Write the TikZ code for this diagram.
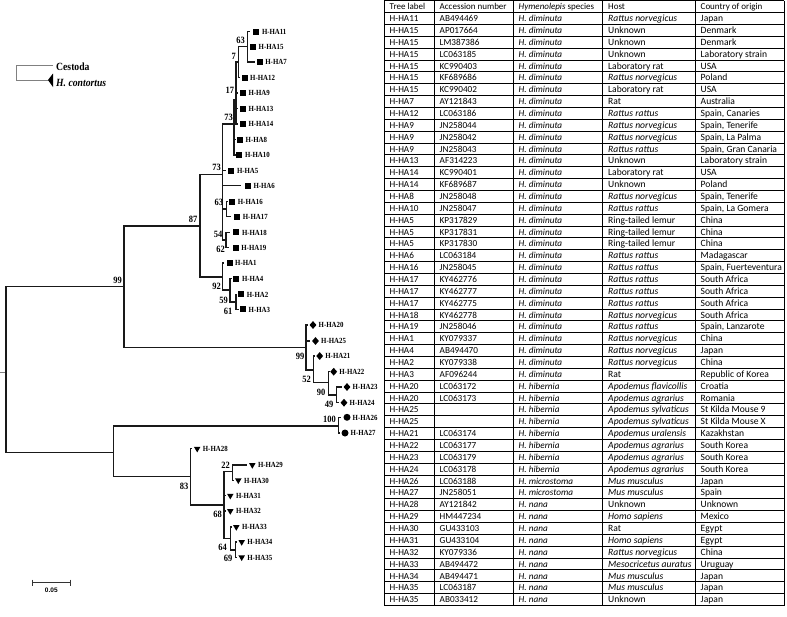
\documentclass[tikz,border=0pt]{standalone}
\usepackage{fontspec}
\setmainfont{Liberation Serif}
\newfontfamily\treefont[FakeStretch=0.88]{Liberation Serif}
\newfontfamily\cellfont{Carlito}
\newfontfamily\barfont{Liberation Sans}
\usetikzlibrary{shapes.geometric}
\tikzset{
 br/.style={line width=1.1pt, black!90},
 leaflab/.style={font=\treefont\bfseries\fontsize{7.8}{8}\selectfont, inner sep=0pt, anchor=base west},
 bs/.style={font=\treefont\bfseries\fontsize{9.6}{10}\selectfont, inner sep=0pt, anchor=base east},
 leg/.style={font=\treefont\bfseries\fontsize{11}{12}\selectfont, inner sep=0pt, anchor=base west},
 sqm/.style={rectangle, fill=black, minimum size=6pt, inner sep=0pt},
 dim/.style={diamond, fill=black, minimum width=7pt, minimum height=8pt, inner sep=0pt},
 cim/.style={circle, fill=black, minimum size=7pt, inner sep=0pt},
 trm/.style={regular polygon, regular polygon sides=3, shape border rotate=180, fill=black, minimum size=7.5pt, inner sep=0pt},
 cell/.style={font=\cellfont\fontsize{9}{10}\selectfont, inner sep=0pt, anchor=base west},
 cellL/.style={font=\cellfont\fontsize{9.2}{10}\selectfont, inner sep=0pt, anchor=base west},
 cellR/.style={font=\cellfont\fontsize{9.6}{10}\selectfont, inner sep=0pt, anchor=base west},
 grid/.style={line width=0.8pt, black},
}
\newcommand{\leafx}[6]{%
 \coordinate (#1) at (#2,#3);
 \node[#5] (#1m) at (#4,#3) {};
 \node[leaflab] (#1t) at ([xshift=5.5pt,yshift=-2.9pt]#1m.center) {#6};}
\newcommand{\trow}[6]{%
 \pgfmathsetmacro{\ry}{0.6+(#1+0.5)*11.86+3.2}%
 \node[cellL] (r#1a) at (389.5,\ry) {#2};
 \node[cellL] (r#1b) at (439.5,\ry) {#3};
 \node[cellL] (r#1c) at (518.5,\ry) {#4};
 \node[cellR] (r#1d) at (608,\ry) {#5};
 \node[cellR] (r#1e) at (700.5,\ry) {#6};}
\newcommand{\hdim}{\textit{H. diminuta}}
\newcommand{\hhib}{\textit{H. hibernia}}
\newcommand{\hmic}{\textit{H. microstoma}}
\newcommand{\hnan}{\textit{H. nana}}
\newcommand{\RNorv}{\textit{Rattus norvegicus}}
\newcommand{\RRat}{\textit{Rattus rattus}}
\begin{document}
\begin{tikzpicture}[x=1pt,y=-1pt]
\useasboundingbox (0,0) rectangle (787,616);
% legend
\coordinate (lg1) at (53,65);
\coordinate (lg0) at (16,65);
\coordinate (lg2) at (16,80);
\coordinate (lg3) at (50,80);
\draw[gray, line width=1pt] (lg1) -- (lg0) -- (lg2) -- (lg3);
\fill[black] (48,80) -- (53,73.5) -- (53,87) -- cycle;
\node[leg] (cest) at (56,70.8) {Cestoda};
\node[leg] (hcon) at (56,86.6) {\itshape H. contortus};
% internal nodes
\coordinate (R0s) at (0,372.7);
\coordinate (R0) at (6,372.7);
\coordinate (A) at (124,286.7);
\coordinate (B) at (200,226);
\coordinate (C) at (222.7,174.3);
\coordinate (D) at (234,124);
\coordinate (N17) at (236,100);
\coordinate (N7) at (238.3,62);
\coordinate (N63) at (247.7,46.7);
\coordinate (N63b) at (226.7,209);
\coordinate (N54) at (226,240);
\coordinate (E) at (222.7,277);
\coordinate (F) at (230,290);
\coordinate (G) at (236,302);
\coordinate (H) at (306,347.7);
\coordinate (I) at (313.3,370);
\coordinate (J) at (328.3,382.7);
\coordinate (K) at (336.7,395);
\coordinate (L) at (113.3,452.3);
\coordinate (N100) at (338.3,426);
\coordinate (M) at (190.7,476.7);
\coordinate (O) at (224,505);
\coordinate (P) at (232.7,471.7);
\coordinate (Q) at (230.7,538.3);
\coordinate (R) at (235.7,550);
% leaves
\leafx{ha11}{250}{31.7}{256.3}{sqm}{H-HA11}
\leafx{ha15}{247.7}{46.7}{253}{sqm}{H-HA15}
\leafx{ha7}{255}{62}{259.7}{sqm}{H-HA7}
\leafx{ha12}{239.5}{77.7}{244.5}{sqm}{H-HA12}
\leafx{ha9}{237.5}{93}{242.8}{sqm}{H-HA9}
\leafx{ha13}{237.5}{108.7}{242.8}{sqm}{H-HA13}
\leafx{ha14}{237.5}{124}{242.8}{sqm}{H-HA14}
\leafx{ha8}{235.5}{139.7}{240}{sqm}{H-HA8}
\leafx{ha10}{235.5}{155}{239.3}{sqm}{H-HA10}
\leafx{ha5}{226}{170.7}{231.3}{sqm}{H-HA5}
\leafx{ha6}{240.7}{185.7}{247.8}{sqm}{H-HA6}
\leafx{ha16}{228}{201.7}{232.2}{sqm}{H-HA16}
\leafx{ha17}{231}{216.7}{237.2}{sqm}{H-HA17}
\leafx{ha18}{230}{232.3}{236.3}{sqm}{H-HA18}
\leafx{ha19}{229}{247.7}{235.7}{sqm}{H-HA19}
\leafx{ha1}{224}{263}{229.5}{sqm}{H-HA1}
\leafx{ha4}{231.5}{278.7}{236.3}{sqm}{H-HA4}
\leafx{ha2}{237}{294.3}{241.2}{sqm}{H-HA2}
\leafx{ha3}{238.5}{309.3}{243}{sqm}{H-HA3}
\leafx{ha20}{308}{325}{313}{dim}{H-HA20}
\leafx{ha25}{310}{341}{315.5}{dim}{H-HA25}
\leafx{ha21}{315}{356}{319.7}{dim}{H-HA21}
\leafx{ha22}{329.5}{371.7}{333.7}{dim}{H-HA22}
\leafx{ha23}{342}{387}{347}{dim}{H-HA23}
\leafx{ha24}{339}{402.7}{344}{dim}{H-HA24}
\leafx{ha26}{341}{417.3}{347}{cim}{H-HA26}
\leafx{ha27}{339.5}{433}{345}{cim}{H-HA27}
\leafx{ha28}{192}{448.7}{197.2}{trm}{H-HA28}
\leafx{ha29}{246.7}{465}{252.3}{trm}{H-HA29}
\leafx{ha30}{233.5}{480.3}{238.3}{trm}{H-HA30}
\leafx{ha31}{225.5}{495.7}{230.3}{trm}{H-HA31}
\leafx{ha32}{225.5}{511}{230.3}{trm}{H-HA32}
\leafx{ha33}{231.5}{527}{236.3}{trm}{H-HA33}
\leafx{ha34}{236.5}{542}{241.7}{trm}{H-HA34}
\leafx{ha35}{236.5}{557.3}{241.7}{trm}{H-HA35}
% branches
\draw[br, gray] (R0s) -- (R0);
\foreach \p/\c in {R0/A, R0/L, A/B, A/H, B/C, B/E, C/D, C/ha5, C/ha6, C/N63b, C/N54,
  D/N17, D/ha8, D/ha10, N17/N7, N17/ha9, N17/ha13, N17/ha14, N7/N63, N7/ha12,
  N63/ha11, N63/ha15, N63/ha7, N63b/ha16, N63b/ha17, N54/ha18, N54/ha19,
  E/ha1, E/F, F/ha4, F/G, G/ha2, G/ha3, H/ha20, H/ha25, H/I, I/ha21, I/J,
  J/ha22, J/K, K/ha23, K/ha24, L/N100, L/M, N100/ha26, N100/ha27, M/ha28, M/O,
  O/P, O/ha31, O/ha32, O/Q, P/ha29, P/ha30, Q/ha33, Q/R, R/ha34, R/ha35}
  \draw[br] (\p) |- (\c);
% bootstrap values
\node[bs] (b63a) at (245,43.5) {63};
\node[bs] (b7) at (236,59) {7};
\node[bs] (b17) at (234.3,93.2) {17};
\node[bs] (b73a) at (233,120.5) {73};
\node[bs] (b73b) at (221,170.9) {73};
\node[bs] (b87) at (197.5,222.5) {87};
\node[bs] (b99a) at (122,283.2) {99};
\node[bs] (b63b) at (223.3,205.5) {63};
\node[bs] (b54) at (222.5,237.2) {54};
\node[bs] (b62) at (225,252.5) {62};
\node[bs] (b92) at (221,289.2) {92};
\node[bs] (b59) at (228,303.2) {59};
\node[bs] (b61) at (232.5,314.9) {61};
\node[bs] (b99b) at (304.5,359.9) {99};
\node[bs] (b52) at (311,382.5) {52};
\node[bs] (b90) at (325.5,395.5) {90};
\node[bs] (b49) at (333.5,407.5) {49};
\node[bs] (b100) at (336,422.2) {100};
\node[bs] (b83) at (188.5,489.2) {83};
\node[bs] (b22) at (230,468.2) {22};
\node[bs] (b68) at (222,517.5) {68};
\node[bs] (b64) at (227,550.5) {64};
\node[bs] (b69) at (232.5,561.9) {69};
% scale bar
\coordinate (sb1) at (32.7,582.7);
\coordinate (sb2) at (70,582.7);
\draw[line width=0.9pt, black!80] (sb1) -- (sb2);
\draw[line width=0.9pt, black!80] ([yshift=3pt]sb1) -- ([yshift=-3pt]sb1);
\draw[line width=0.9pt, black!80] ([yshift=3pt]sb2) -- ([yshift=-3pt]sb2);
\node[font=\barfont\bfseries\fontsize{6.5}{7}\selectfont, inner sep=0pt] (sbl) at (51.3,590.7) {0.05};
% table grid
\foreach \x in {384,434,513,602.5,695,784} \draw[grid] (\x,0.6) -- (\x,605.5);
\foreach \i in {0,...,51} \draw[grid] (384,{0.6+\i*11.86}) -- (784,{0.6+\i*11.86});
% header row
\node[cell] (r0a) at (389.5,9.63) {Tree label};
\node[cell] (r0b) at (439.5,9.63) {Accession number};
\node[cell] (r0c) at (518.5,9.63) {\textit{Hymenolepis} species};
\node[cell] (r0d) at (608,9.63) {Host};
\node[cell] (r0e) at (700.5,9.63) {Country of origin};
% table rows
\trow{1}{H-HA11}{AB494469}{\hdim}{\RNorv}{Japan}
\trow{2}{H-HA15}{AP017664}{\hdim}{Unknown}{Denmark}
\trow{3}{H-HA15}{LM387386}{\hdim}{Unknown}{Denmark}
\trow{4}{H-HA15}{LC063185}{\hdim}{Unknown}{Laboratory strain}
\trow{5}{H-HA15}{KC990403}{\hdim}{Laboratory rat}{USA}
\trow{6}{H-HA15}{KF689686}{\hdim}{\RNorv}{Poland}
\trow{7}{H-HA15}{KC990402}{\hdim}{Laboratory rat}{USA}
\trow{8}{H-HA7}{AY121843}{\hdim}{Rat}{Australia}
\trow{9}{H-HA12}{LC063186}{\hdim}{\RRat}{Spain, Canaries}
\trow{10}{H-HA9}{JN258044}{\hdim}{\RNorv}{Spain, Tenerife}
\trow{11}{H-HA9}{JN258042}{\hdim}{\RNorv}{Spain, La Palma}
\trow{12}{H-HA9}{JN258043}{\hdim}{\RRat}{Spain, Gran Canaria}
\trow{13}{H-HA13}{AF314223}{\hdim}{Unknown}{Laboratory strain}
\trow{14}{H-HA14}{KC990401}{\hdim}{Laboratory rat}{USA}
\trow{15}{H-HA14}{KF689687}{\hdim}{Unknown}{Poland}
\trow{16}{H-HA8}{JN258048}{\hdim}{\RNorv}{Spain, Tenerife}
\trow{17}{H-HA10}{JN258047}{\hdim}{\RRat}{Spain, La Gomera}
\trow{18}{H-HA5}{KP317829}{\hdim}{Ring-tailed lemur}{China}
\trow{19}{H-HA5}{KP317831}{\hdim}{Ring-tailed lemur}{China}
\trow{20}{H-HA5}{KP317830}{\hdim}{Ring-tailed lemur}{China}
\trow{21}{H-HA6}{LC063184}{\hdim}{\RRat}{Madagascar}
\trow{22}{H-HA16}{JN258045}{\hdim}{\RRat}{Spain, Fuerteventura}
\trow{23}{H-HA17}{KY462776}{\hdim}{\RRat}{South Africa}
\trow{24}{H-HA17}{KY462777}{\hdim}{\RRat}{South Africa}
\trow{25}{H-HA17}{KY462775}{\hdim}{\RRat}{South Africa}
\trow{26}{H-HA18}{KY462778}{\hdim}{\RNorv}{South Africa}
\trow{27}{H-HA19}{JN258046}{\hdim}{\RRat}{Spain, Lanzarote}
\trow{28}{H-HA1}{KY079337}{\hdim}{\RNorv}{China}
\trow{29}{H-HA4}{AB494470}{\hdim}{\RNorv}{Japan}
\trow{30}{H-HA2}{KY079338}{\hdim}{\RNorv}{China}
\trow{31}{H-HA3}{AF096244}{\hdim}{Rat}{Republic of Korea}
\trow{32}{H-HA20}{LC063172}{\hhib}{\textit{Apodemus flavicollis}}{Croatia}
\trow{33}{H-HA20}{LC063173}{\hhib}{\textit{Apodemus agrarius}}{Romania}
\trow{34}{H-HA25}{}{\hhib}{\textit{Apodemus sylvaticus}}{St Kilda Mouse 9}
\trow{35}{H-HA25}{}{\hhib}{\textit{Apodemus sylvaticus}}{St Kilda Mouse X}
\trow{36}{H-HA21}{LC063174}{\hhib}{\textit{Apodemus uralensis}}{Kazakhstan}
\trow{37}{H-HA22}{LC063177}{\hhib}{\textit{Apodemus agrarius}}{South Korea}
\trow{38}{H-HA23}{LC063179}{\hhib}{\textit{Apodemus agrarius}}{South Korea}
\trow{39}{H-HA24}{LC063178}{\hhib}{\textit{Apodemus agrarius}}{South Korea}
\trow{40}{H-HA26}{LC063188}{\hmic}{\textit{Mus musculus}}{Japan}
\trow{41}{H-HA27}{JN258051}{\hmic}{\textit{Mus musculus}}{Spain}
\trow{42}{H-HA28}{AY121842}{\hnan}{Unknown}{Unknown}
\trow{43}{H-HA29}{HM447234}{\hnan}{\textit{Homo sapiens}}{Mexico}
\trow{44}{H-HA30}{GU433103}{\hnan}{Rat}{Egypt}
\trow{45}{H-HA31}{GU433104}{\hnan}{\textit{Homo sapiens}}{Egypt}
\trow{46}{H-HA32}{KY079336}{\hnan}{\RNorv}{China}
\trow{47}{H-HA33}{AB494472}{\hnan}{\textit{Mesocricetus auratus}}{Uruguay}
\trow{48}{H-HA34}{AB494471}{\hnan}{\textit{Mus musculus}}{Japan}
\trow{49}{H-HA35}{LC063187}{\hnan}{\textit{Mus musculus}}{Japan}
\trow{50}{H-HA35}{AB033412}{\hnan}{Unknown}{Japan}
\end{tikzpicture}
\end{document}
